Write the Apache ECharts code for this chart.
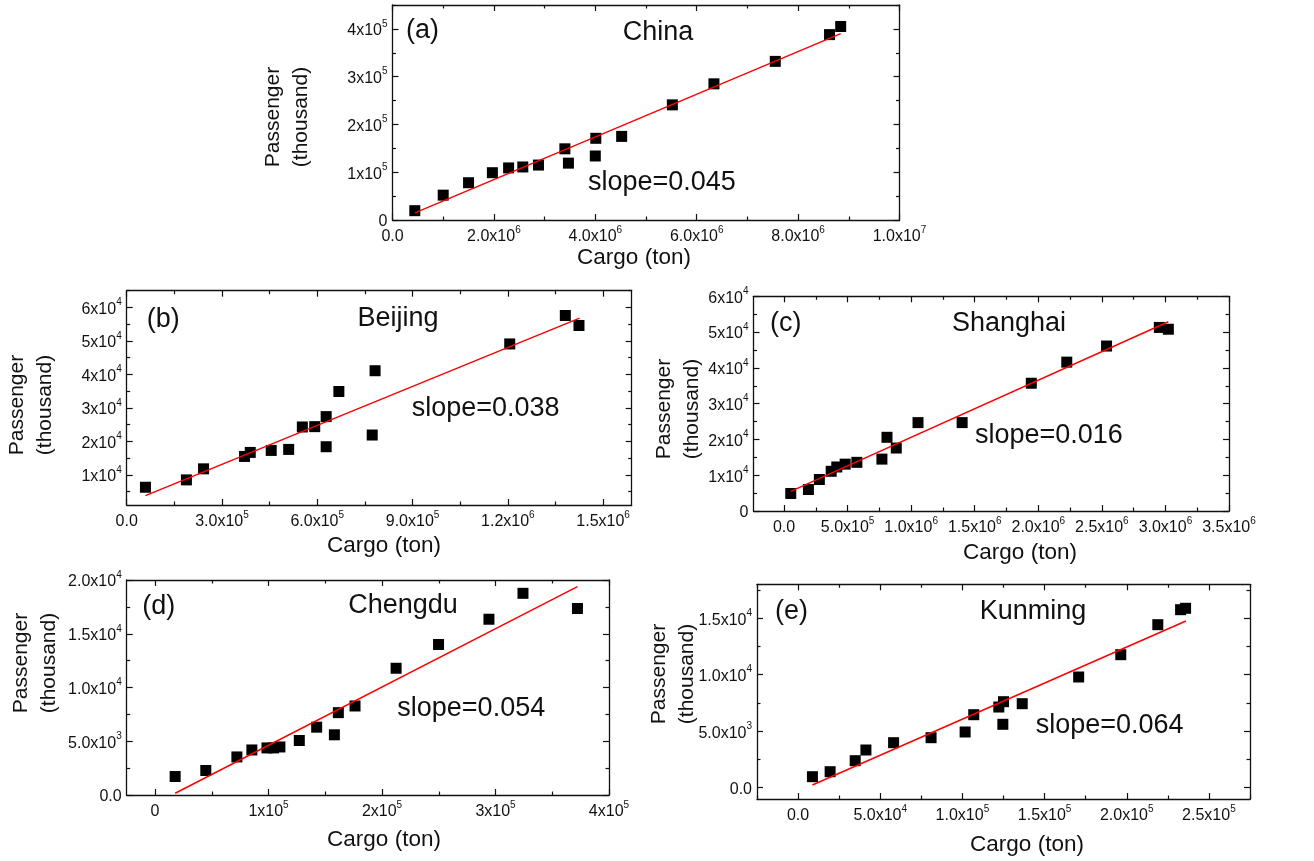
<!DOCTYPE html>
<html>
<head>
<meta charset="utf-8">
<script src="https://cdn.jsdelivr.net/npm/echarts@6/dist/echarts.min.js"></script>
<style>
html,body{margin:0;padding:0;background:#fff;}
#chart{width:1314px;height:861px;}
</style>
</head>
<body>
<div id="chart"></div>
<script>
// ---------------- DATA ----------------
const chinaCargo = [0.44e6, 1.0e6, 1.5e6, 1.97e6, 2.29e6, 2.57e6, 2.88e6, 3.40e6, 3.47e6, 4.01e6, 4.0e6, 4.52e6, 5.52e6, 6.34e6, 7.55e6, 8.62e6, 8.84e6];
const chinaPassenger = [1.95e4, 5.2e4, 7.8e4, 9.9e4, 1.09e5, 1.11e5, 1.15e5, 1.49e5, 1.19e5, 1.71e5, 1.34e5, 1.75e5, 2.41e5, 2.85e5, 3.32e5, 3.88e5, 4.05e5];
const chinaFitX = [0.44e6, 8.84e6];
const chinaFitY = [1.5e4, 3.9e5];

const beijingCargo = [0.59e5, 1.88e5, 2.42e5, 3.71e5, 3.89e5, 4.55e5, 5.10e5, 5.53e5, 5.92e5, 6.28e5, 6.28e5, 6.68e5, 7.73e5, 7.82e5, 1.206e6, 1.381e6, 1.424e6];
const beijingPassenger = [6300, 8500, 11800, 15500, 16700, 17300, 17600, 24300, 24400, 27400, 18400, 34900, 21900, 41100, 49100, 57600, 54600];
const beijingFitX = [0.59e5, 1.426e6];
const beijingFitY = [3800, 56800];

const shanghaiCargo = [5.3e4, 1.92e5, 2.78e5, 3.71e5, 4.15e5, 4.81e5, 5.73e5, 7.7e5, 8.1e5, 8.83e5, 1.054e6, 1.401e6, 1.945e6, 2.224e6, 2.537e6, 2.952e6, 3.023e6];
const shanghaiPassenger = [4900, 6000, 8800, 11100, 12300, 13100, 13600, 14500, 20600, 17600, 24700, 24700, 35700, 41600, 46100, 51300, 50800];
const shanghaiFitX = [5.3e4, 3.023e6];
const shanghaiFitY = [5500, 52900];

const chengduCargo = [17700, 44700, 72100, 85300, 98600, 104400, 110000, 127100, 142400, 158000, 161500, 176200, 212400, 249800, 294200, 324200, 372200];
const chengduPassenger = [1720, 2280, 3540, 4190, 4380, 4380, 4470, 5070, 6310, 5600, 7660, 8280, 11790, 14000, 16350, 18760, 17350];
const chengduFitX = [17700, 372200];
const chengduFitY = [160, 19390];

const kunmingCargo = [8720, 19500, 34760, 41280, 58120, 80920, 101650, 106900, 122150, 125000, 124600, 136400, 170740, 196360, 218900, 232760, 235800];
const kunmingPassenger = [974, 1416, 2390, 3336, 3983, 4425, 4930, 6460, 7140, 7611, 5610, 7434, 9797, 11770, 14426, 15753, 15877];
const kunmingFitX = [8720, 236000];
const kunmingFitY = [240, 14750];

// tick values and labels ("^" marks the exponent)
const chinaXTicks = [0, 2e6, 4e6, 6e6, 8e6, 1e7];
const chinaXLabels = ['0.0', '2.0x10^6', '4.0x10^6', '6.0x10^6', '8.0x10^6', '1.0x10^7'];
const chinaYTicks = [0, 1e5, 2e5, 3e5, 4e5];
const chinaYLabels = ['0', '1x10^5', '2x10^5', '3x10^5', '4x10^5'];

const beijingXTicks = [0, 3e5, 6e5, 9e5, 1.2e6, 1.5e6];
const beijingXLabels = ['0.0', '3.0x10^5', '6.0x10^5', '9.0x10^5', '1.2x10^6', '1.5x10^6'];
const beijingYTicks = [1e4, 2e4, 3e4, 4e4, 5e4, 6e4];
const beijingYLabels = ['1x10^4', '2x10^4', '3x10^4', '4x10^4', '5x10^4', '6x10^4'];

const shanghaiXTicks = [0, 5e5, 1e6, 1.5e6, 2e6, 2.5e6, 3e6, 3.5e6];
const shanghaiXLabels = ['0.0', '5.0x10^5', '1.0x10^6', '1.5x10^6', '2.0x10^6', '2.5x10^6', '3.0x10^6', '3.5x10^6'];
const shanghaiYTicks = [0, 1e4, 2e4, 3e4, 4e4, 5e4, 6e4];
const shanghaiYLabels = ['0', '1x10^4', '2x10^4', '3x10^4', '4x10^4', '5x10^4', '6x10^4'];

const chengduXTicks = [0, 1e5, 2e5, 3e5, 4e5];
const chengduXLabels = ['0', '1x10^5', '2x10^5', '3x10^5', '4x10^5'];
const chengduYTicks = [0, 5e3, 1e4, 1.5e4, 2e4];
const chengduYLabels = ['0.0', '5.0x10^3', '1.0x10^4', '1.5x10^4', '2.0x10^4'];

const kunmingXTicks = [0, 5e4, 1e5, 1.5e5, 2e5, 2.5e5];
const kunmingXLabels = ['0.0', '5.0x10^4', '1.0x10^5', '1.5x10^5', '2.0x10^5', '2.5x10^5'];
const kunmingYTicks = [0, 5e3, 1e4, 1.5e4];
const kunmingYLabels = ['0.0', '5.0x10^3', '1.0x10^4', '1.5x10^4'];

const panelTags = ['(a)', '(b)', '(c)', '(d)', '(e)'];
const panelNames = ['China', 'Beijing', 'Shanghai', 'Chengdu', 'Kunming'];
const slopeTexts = ['slope=0.045', 'slope=0.038', 'slope=0.016', 'slope=0.054', 'slope=0.064'];
const xTitle = 'Cargo (ton)';
const yTitle = 'Passenger\n(thousand)';

// ---------------- LAYOUT ----------------
const FONT = 'Liberation Sans, Arial, Helvetica, sans-serif';
const panels = [
  { cargo: chinaCargo, pass: chinaPassenger, fitX: chinaFitX, fitY: chinaFitY,
    xt: chinaXTicks, xl: chinaXLabels, yt: chinaYTicks, yl: chinaYLabels,
    grid: {left: 392.5, top: 5, width: 507, height: 215},
    xr: [0, 1e7], yr: [0, 4.5e5],
    tag: [406, 31], name: [658, 33], slope: [588, 183], yt0: [287.5, 117], xt0: [634, 258] },
  { cargo: beijingCargo, pass: beijingPassenger, fitX: beijingFitX, fitY: beijingFitY,
    xt: beijingXTicks, xl: beijingXLabels, yt: beijingYTicks, yl: beijingYLabels,
    grid: {left: 126.7, top: 290.7, width: 505, height: 214.3},
    xr: [0, 1.59e6], yr: [1000, 65000],
    tag: [146.7, 320], name: [398, 319], slope: [411.7, 409], yt0: [31, 405], xt0: [384, 546] },
  { cargo: shanghaiCargo, pass: shanghaiPassenger, fitX: shanghaiFitX, fitY: shanghaiFitY,
    xt: shanghaiXTicks, xl: shanghaiXLabels, yt: shanghaiYTicks, yl: shanghaiYLabels,
    grid: {left: 753.5, top: 296.3, width: 475.5, height: 214.7},
    xr: [-2.4e5, 3.5e6], yr: [0, 6e4],
    tag: [770, 324], name: [1009, 324], slope: [975, 436], yt0: [678, 409], xt0: [1020, 553] },
  { cargo: chengduCargo, pass: chengduPassenger, fitX: chengduFitX, fitY: chengduFitY,
    xt: chengduXTicks, xl: chengduXLabels, yt: chengduYTicks, yl: chengduYLabels,
    grid: {left: 126.7, top: 580, width: 482.3, height: 215},
    xr: [-2.5e4, 4e5], yr: [0, 2e4],
    tag: [142.3, 607], name: [403, 605.7], slope: [397.3, 709], yt0: [35.5, 663], xt0: [384, 840] },
  { cargo: kunmingCargo, pass: kunmingPassenger, fitX: kunmingFitX, fitY: kunmingFitY,
    xt: kunmingXTicks, xl: kunmingXLabels, yt: kunmingYTicks, yl: kunmingYLabels,
    grid: {left: 757, top: 584.3, width: 493, height: 214.7},
    xr: [-2.5e4, 2.75e5], yr: [-1000, 18000],
    tag: [775, 612], name: [1033, 612], slope: [1035.7, 725.7], yt0: [673.5, 674], xt0: [1027, 845] }
];

function minorTicks(ticks, lo, hi) {
  const step = (ticks[1] - ticks[0]) / 2;
  const out = [];
  let v = ticks[0] - step * Math.ceil((ticks[0] - lo) / step);
  for (; v <= hi + 1e-9 * Math.abs(hi); v += step) {
    if (v >= lo - 1e-9 && !ticks.some(t => Math.abs(t - v) < step * 1e-6)) out.push(v);
  }
  return out;
}
function richLabel(s) {
  const p = s.split('^');
  return p.length > 1 ? '{m|' + p[0] + '}{s|' + p[1] + '}' : '{m|' + p[0] + '}';
}
const rich = {
  m: {fontSize: 16, fontFamily: FONT, color: '#111', verticalAlign: 'bottom', lineHeight: 20},
  s: {fontSize: 10, fontFamily: FONT, color: '#111', verticalAlign: 'top', lineHeight: 10}
};
const LINE = {show: true, lineStyle: {color: '#111', width: 1.3}};

const grids = [], xAxes = [], yAxes = [], series = [], graphic = [];
panels.forEach((p, i) => {
  grids.push(Object.assign({show: false, containLabel: false}, p.grid));
  const xMinor = minorTicks(p.xt, p.xr[0], p.xr[1]);
  const yMinor = minorTicks(p.yt, p.yr[0], p.yr[1]);
  const mkAxis = (pos, ticks, labels, minor, range, isMain) => {
    const base = {gridIndex: i, type: 'value', min: range[0], max: range[1], position: pos,
      splitLine: {show: false}, axisLine: {show: false, onZero: false}};
    const major = Object.assign({}, base, {
      axisLine: Object.assign({onZero: false}, LINE),
      axisTick: {show: true, inside: true, length: 6, customValues: ticks, lineStyle: {color: '#111', width: 1.2}},
      axisLabel: isMain ? {show: true, customValues: ticks, margin: 5, rich: rich,
        formatter: v => { const k = ticks.findIndex(t => Math.abs(t - v) <= Math.abs(range[1] - range[0]) * 1e-6); return k >= 0 ? richLabel(labels[k]) : ''; }}
        : {show: false}
    });
    const mn = Object.assign({}, base, {
      axisTick: {show: true, inside: true, length: 3.5, customValues: minor, lineStyle: {color: '#111', width: 1.2}},
      axisLabel: {show: false}
    });
    return [major, mn];
  };
  const xs = mkAxis('bottom', p.xt, p.xl, xMinor, p.xr, true).concat(mkAxis('top', p.xt, p.xl, xMinor, p.xr, false));
  const ys = mkAxis('left', p.yt, p.yl, yMinor, p.yr, true).concat(mkAxis('right', p.yt, p.yl, yMinor, p.yr, false));
  const xIdx = xAxes.length, yIdx = yAxes.length;
  xs.forEach(a => xAxes.push(a));
  ys.forEach(a => yAxes.push(a));
  series.push({
    type: 'line', xAxisIndex: xIdx, yAxisIndex: yIdx, showSymbol: false, symbol: 'none',
    data: p.fitX.map((x, k) => [x, p.fitY[k]]), lineStyle: {color: '#ff0000', width: 1.5},
    silent: true, animation: false, z: 3
  });
  series.push({
    type: 'scatter', xAxisIndex: xIdx, yAxisIndex: yIdx, symbol: 'rect', symbolSize: 11,
    itemStyle: {color: '#000', opacity: 1}, data: p.cargo.map((x, k) => [x, p.pass[k]]),
    animation: false, z: 2
  });
  graphic.push({type: 'text', x: p.tag[0], y: p.tag[1],
    style: {text: panelTags[i], fontSize: 27, fontFamily: FONT, fill: '#111', align: 'left', verticalAlign: 'middle'}});
  graphic.push({type: 'text', x: p.name[0], y: p.name[1],
    style: {text: panelNames[i], fontSize: 27, fontFamily: FONT, fill: '#111', align: 'center', verticalAlign: 'middle'}});
  graphic.push({type: 'text', x: p.slope[0], y: p.slope[1],
    style: {text: slopeTexts[i], fontSize: 27, fontFamily: FONT, fill: '#111', align: 'left', verticalAlign: 'middle'}});
  graphic.push({type: 'text', x: p.yt0[0], y: p.yt0[1], rotation: Math.PI / 2,
    style: {text: yTitle, fontSize: 21, lineHeight: 28, fontFamily: FONT, fill: '#111', align: 'center', verticalAlign: 'middle'}});
  graphic.push({type: 'text', x: p.xt0[0], y: p.xt0[1],
    style: {text: xTitle, fontSize: 22.5, fontFamily: FONT, fill: '#111', align: 'center', verticalAlign: 'middle'}});
});

const chart = echarts.init(document.getElementById('chart'), null, {renderer: 'canvas'});
chart.setOption({
  backgroundColor: '#fff',
  animation: false,
  grid: grids,
  xAxis: xAxes,
  yAxis: yAxes,
  series: series,
  graphic: graphic
});
</script>
</body>
</html>
